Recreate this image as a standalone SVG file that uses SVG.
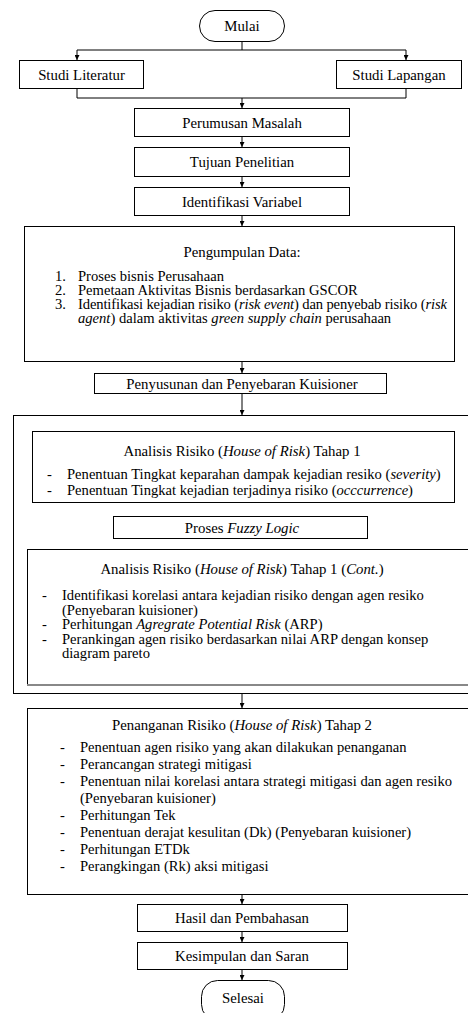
<svg xmlns="http://www.w3.org/2000/svg" width="468" height="1013" viewBox="0 0 468 1013">
<defs>
<marker id="ah" viewBox="0 0 10 10" refX="10" refY="5" markerWidth="5" markerHeight="5" orient="auto" markerUnits="userSpaceOnUse">
<path d="M0,0 L10,5 L0,10 z" fill="#000"/>
</marker>
<style>
.bx{fill:#fff;stroke:#000;stroke-width:1}
.t{font-family:"Liberation Serif","Times New Roman",serif;font-size:14.6px;fill:#000}
.c{text-anchor:middle;font-size:14.8px}
.cn{fill:none;stroke:#000;stroke-width:1}
.i{font-style:italic}
</style>
</defs>
<rect width="468" height="1013" fill="#fff"/>
<g id="connectors">
<path class="cn" d="M242,42 V50 M77,50 H406"/>
<path class="cn" d="M77,50 V60" marker-end="url(#ah)"/>
<path class="cn" d="M406,50 V60" marker-end="url(#ah)"/>
<path class="cn" d="M77,89 V98 H406 V89"/>
<path class="cn" d="M242,98 V108" marker-end="url(#ah)"/>
<path class="cn" d="M242,137 V147" marker-end="url(#ah)"/>
<path class="cn" d="M242,177 V187" marker-end="url(#ah)"/>
<path class="cn" d="M242,216 V226" marker-end="url(#ah)"/>
<path class="cn" d="M242,362 V373" marker-end="url(#ah)"/>
<path class="cn" d="M242,394 V415" marker-end="url(#ah)"/>
<path class="cn" d="M242,503 V516" marker-end="url(#ah)"/>
<path class="cn" d="M242,539 V549" marker-end="url(#ah)"/>
<path class="cn" d="M242,694 V708" marker-end="url(#ah)"/>
<path class="cn" d="M242,895 V904" marker-end="url(#ah)"/>
<path class="cn" d="M242,932 V942" marker-end="url(#ah)"/>
<path class="cn" d="M242,970 V980" marker-end="url(#ah)"/>
</g>
<g id="mulai">
<rect class="bx" x="199.5" y="10.5" width="85" height="31" rx="15.5"/>
<text class="t c" x="242" y="31">Mulai</text>
</g>
<g id="studi-literatur">
<rect class="bx" x="19.5" y="60.5" width="124" height="28"/>
<text class="t c" x="81.5" y="79.5">Studi Literatur</text>
</g>
<g id="studi-lapangan">
<rect class="bx" x="336.5" y="60.5" width="125" height="28"/>
<text class="t c" x="399" y="79.5">Studi Lapangan</text>
</g>
<g id="perumusan">
<rect class="bx" x="134.5" y="108.5" width="215" height="28"/>
<text class="t c" x="242" y="127.5">Perumusan Masalah</text>
</g>
<g id="tujuan">
<rect class="bx" x="134.5" y="147.5" width="215" height="29"/>
<text class="t c" x="242" y="167">Tujuan Penelitian</text>
</g>
<g id="identifikasi">
<rect class="bx" x="134.5" y="187.5" width="215" height="28"/>
<text class="t c" x="242" y="206.5">Identifikasi Variabel</text>
</g>
<g id="pengumpulan">
<rect class="bx" x="24.5" y="226.5" width="430" height="135"/>
<text class="t c" x="242" y="256.5">Pengumpulan Data:</text>
<text class="t" x="55" y="281">1.</text>
<text class="t" x="78" y="281">Proses bisnis Perusahaan</text>
<text class="t" x="55" y="295">2.</text>
<text class="t" x="78" y="295">Pemetaan Aktivitas Bisnis berdasarkan GSCOR</text>
<text class="t" x="55" y="309">3.</text>
<text class="t" x="78" y="309" textLength="369" lengthAdjust="spacing">Identifikasi kejadian risiko (<tspan class="i">risk event</tspan>) dan penyebab risiko (<tspan class="i">risk</tspan></text>
<text class="t" x="78" y="323"><tspan class="i">agent</tspan>) dalam aktivitas <tspan class="i">green supply chain</tspan> perusahaan</text>
</g>
<g id="penyusunan">
<rect class="bx" x="94.5" y="373.5" width="292" height="20"/>
<text class="t c" x="242" y="388.5">Penyusunan dan Penyebaran Kuisioner</text>
</g>
<g id="analisis-group">
<rect class="bx" x="13.5" y="415.5" width="470" height="278"/>
</g>
<g id="analisis-1">
<rect class="bx" x="32.5" y="431.5" width="422" height="71"/>
<text class="t c" x="242" y="455.5">Analisis Risiko (<tspan class="i">House of Risk</tspan>) Tahap 1</text>
<text class="t" x="47" y="479">-</text>
<text class="t" x="67" y="479">Penentuan Tingkat keparahan dampak kejadian resiko (<tspan class="i">severity</tspan>)</text>
<text class="t" x="47" y="495">-</text>
<text class="t" x="67" y="495">Penentuan Tingkat kejadian terjadinya risiko (<tspan class="i">occcurrence</tspan>)</text>
</g>
<g id="fuzzy">
<rect class="bx" x="113.5" y="516.5" width="254" height="22"/>
<text class="t c" x="242" y="532.5">Proses <tspan class="i">Fuzzy Logic</tspan></text>
</g>
<g id="analisis-2">
<rect x="27.5" y="549.5" width="460" height="135" fill="#fff" stroke="#000" stroke-width="1"/>
<line x1="27" y1="685" x2="468" y2="685" stroke="#888" stroke-width="2"/>
<text class="t c" x="242" y="573.5">Analisis Risiko (<tspan class="i">House of Risk</tspan>) Tahap 1 (<tspan class="i">Cont.</tspan>)</text>
<text class="t" x="42" y="600">-</text>
<text class="t" x="62" y="600">Identifikasi korelasi antara kejadian risiko dengan agen resiko</text>
<text class="t" x="62" y="614.5">(Penyebaran kuisioner)</text>
<text class="t" x="42" y="629">-</text>
<text class="t" x="62" y="629">Perhitungan <tspan class="i">Agregrate Potential Risk</tspan> (ARP)</text>
<text class="t" x="42" y="643.5">-</text>
<text class="t" x="62" y="643.5">Perankingan agen risiko berdasarkan nilai ARP dengan konsep</text>
<text class="t" x="62" y="658">diagram pareto</text>
</g>
<g id="penanganan">
<rect class="bx" x="27.5" y="708.5" width="460" height="186"/>
<text class="t c" x="242" y="729.5">Penanganan Risiko (<tspan class="i">House of Risk</tspan>) Tahap 2</text>
<text class="t" x="60" y="752">-</text>
<text class="t" x="80" y="752">Penentuan agen risiko yang akan dilakukan penanganan</text>
<text class="t" x="60" y="769">-</text>
<text class="t" x="80" y="769">Perancangan strategi mitigasi</text>
<text class="t" x="60" y="786">-</text>
<text class="t" x="80" y="786">Penentuan nilai korelasi antara strategi mitigasi dan agen resiko</text>
<text class="t" x="80" y="803">(Penyebaran kuisioner)</text>
<text class="t" x="60" y="820">-</text>
<text class="t" x="80" y="820">Perhitungan Tek</text>
<text class="t" x="60" y="837">-</text>
<text class="t" x="80" y="837">Penentuan derajat kesulitan (Dk) (Penyebaran kuisioner)</text>
<text class="t" x="60" y="854">-</text>
<text class="t" x="80" y="854">Perhitungan ETDk</text>
<text class="t" x="60" y="871">-</text>
<text class="t" x="80" y="871">Perangkingan (Rk) aksi mitigasi</text>
</g>
<g id="hasil">
<rect class="bx" x="137.5" y="904.5" width="210" height="27"/>
<text class="t c" x="242" y="923">Hasil dan Pembahasan</text>
</g>
<g id="kesimpulan">
<rect class="bx" x="137.5" y="942.5" width="210" height="27"/>
<text class="t c" x="242" y="961">Kesimpulan dan Saran</text>
</g>
<g id="selesai">
<rect class="bx" x="201.5" y="980.5" width="83" height="40" rx="16"/>
<text class="t c" x="243" y="1002.5">Selesai</text>
</g>
</svg>
